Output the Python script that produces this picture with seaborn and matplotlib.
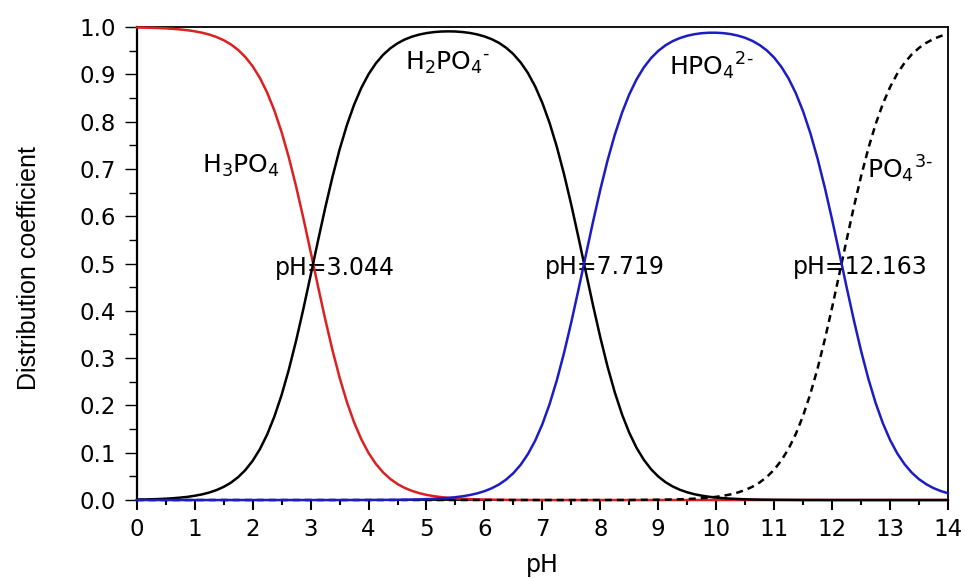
import matplotlib
matplotlib.use("Agg")
import matplotlib.pyplot as plt
from matplotlib.ticker import FormatStrFormatter, MultipleLocator
import pandas as pd
import seaborn as sns

# ---- data (distribution coefficient vs pH) ----
ph = [0.0, 0.125, 0.25, 0.375, 0.5, 0.625, 0.75, 0.875,
      1.0, 1.125, 1.25, 1.375, 1.5, 1.625, 1.75, 1.875,
      2.0, 2.125, 2.25, 2.375, 2.5, 2.625, 2.75, 2.875,
      3.0, 3.125, 3.25, 3.375, 3.5, 3.625, 3.75, 3.875,
      4.0, 4.125, 4.25, 4.375, 4.5, 4.625, 4.75, 4.875,
      5.0, 5.125, 5.25, 5.375, 5.5, 5.625, 5.75, 5.875,
      6.0, 6.125, 6.25, 6.375, 6.5, 6.625, 6.75, 6.875,
      7.0, 7.125, 7.25, 7.375, 7.5, 7.625, 7.75, 7.875,
      8.0, 8.125, 8.25, 8.375, 8.5, 8.625, 8.75, 8.875,
      9.0, 9.125, 9.25, 9.375, 9.5, 9.625, 9.75, 9.875,
      10.0, 10.125, 10.25, 10.375, 10.5, 10.625, 10.75, 10.875,
      11.0, 11.125, 11.25, 11.375, 11.5, 11.625, 11.75, 11.875,
      12.0, 12.125, 12.25, 12.375, 12.5, 12.625, 12.75, 12.875,
      13.0, 13.125, 13.25, 13.375, 13.5, 13.625, 13.75, 13.875,
      14.0]

h3po4 = ([0.9991, 0.9988, 0.9984, 0.9979, 0.9972, 0.9962, 0.9949, 0.9933,
          0.9910, 0.9881, 0.9842, 0.9790, 0.9722, 0.9633, 0.9516, 0.9365,
          0.9171, 0.8925, 0.8616, 0.8235, 0.7778, 0.7241, 0.6631, 0.5961,
          0.5253, 0.4535, 0.3836, 0.3182, 0.2592, 0.2079, 0.1644, 0.1286,
          0.0996, 0.0766, 0.0586, 0.0446, 0.0338, 0.0256, 0.0193, 0.0145,
          0.0109, 0.0082, 0.0062, 0.0046, 0.0035, 0.0026, 0.0019, 0.0015,
          0.0011, 0.0008, 0.0006, 0.0004, 0.0003, 0.0002, 0.0002, 0.0001,
          0.0001]
         + [0.0] * 56)

h2po4 = ([0.0009, 0.0012, 0.0016, 0.0021, 0.0028, 0.0038, 0.0051, 0.0067,
          0.0090, 0.0119, 0.0158, 0.0210, 0.0278, 0.0367, 0.0484, 0.0635,
          0.0829, 0.1075, 0.1384, 0.1765, 0.2222, 0.2759, 0.3369, 0.4039,
          0.4747, 0.5465, 0.6164, 0.6818, 0.7408, 0.7921, 0.8355, 0.8713,
          0.9002, 0.9231, 0.9411, 0.9550, 0.9656, 0.9737, 0.9797, 0.9841,
          0.9872, 0.9893, 0.9905, 0.9909, 0.9906, 0.9894, 0.9875, 0.9844,
          0.9802, 0.9744, 0.9666, 0.9562, 0.9427, 0.9252, 0.9029, 0.8746,
          0.8395, 0.7970, 0.7465, 0.6883, 0.6235, 0.5539, 0.4822, 0.4111,
          0.3437, 0.2819, 0.2275, 0.1808, 0.1421, 0.1104, 0.0852, 0.0652,
          0.0497, 0.0377, 0.0286, 0.0216, 0.0163, 0.0122, 0.0092, 0.0069,
          0.0052, 0.0039, 0.0029, 0.0022, 0.0016, 0.0012, 0.0009, 0.0007,
          0.0005, 0.0004, 0.0003, 0.0002, 0.0001, 0.0001, 0.0001]
         + [0.0] * 18)

hpo4 = ([0.0] * 30
        + [0.0001, 0.0001,
           0.0002, 0.0002, 0.0003, 0.0004, 0.0006, 0.0008, 0.0011, 0.0014,
           0.0019, 0.0025, 0.0034, 0.0045, 0.0060, 0.0080, 0.0106, 0.0141,
           0.0187, 0.0248, 0.0328, 0.0433, 0.0569, 0.0745, 0.0970, 0.1253,
           0.1604, 0.2030, 0.2535, 0.3117, 0.3765, 0.4461, 0.5178, 0.5889,
           0.6563, 0.7181, 0.7725, 0.8190, 0.8578, 0.8893, 0.9145, 0.9343,
           0.9496, 0.9614, 0.9703, 0.9768, 0.9816, 0.9849, 0.9870, 0.9880,
           0.9880, 0.9871, 0.9851, 0.9818, 0.9772, 0.9707, 0.9619, 0.9504,
           0.9353, 0.9157, 0.8909, 0.8597, 0.8214, 0.7753, 0.7213, 0.6600,
           0.5927, 0.5218, 0.4501, 0.3803, 0.3152, 0.2566, 0.2056, 0.1625,
           0.1270, 0.0984, 0.0757, 0.0578, 0.0440, 0.0334, 0.0252, 0.0190,
           0.0143])

po4 = ([0.0] * 65
       + [0.0001, 0.0001, 0.0001, 0.0001, 0.0003, 0.0004, 0.0005,
          0.0007, 0.0009, 0.0012, 0.0016, 0.0021, 0.0029, 0.0038, 0.0051,
          0.0068, 0.0090, 0.0120, 0.0160, 0.0212, 0.0281, 0.0372, 0.0490,
          0.0643, 0.0839, 0.1088, 0.1401, 0.1785, 0.2246, 0.2786, 0.3400,
          0.4073, 0.4782, 0.5499, 0.6197, 0.6848, 0.7434, 0.7944, 0.8375,
          0.8730, 0.9016, 0.9243, 0.9422, 0.9560, 0.9666, 0.9748, 0.9810,
          0.9857])

x_ticks = [0, 1, 2, 3, 4, 5, 6, 7, 8, 9, 10, 11, 12, 13, 14]
y_ticks = [0.0, 0.1, 0.2, 0.3, 0.4, 0.5, 0.6, 0.7, 0.8, 0.9, 1.0]

species_labels = [r"H$_{\mathregular{3}}$PO$_{\mathregular{4}}$",
                  "H$_{\\mathregular{2}}$PO$_{\\mathregular{4}}{}^{\\mathregular{\u2010}}$",
                  "HPO$_{\\mathregular{4}}{}^{\\mathregular{2\u2010}}$",
                  "PO$_{\\mathregular{4}}{}^{\\mathregular{3\u2010}}$"]
species_pos = [(1.12, 0.691), (4.63, 0.909), (9.19, 0.8985), (12.60, 0.680)]
cross_labels = ["pH=3.044", "pH=7.719", "pH=12.163"]
cross_pos = [(2.387, 0.476), (7.046, 0.478), (11.33, 0.478)]

df = pd.DataFrame({"pH": ph, "H3PO4": h3po4, "H2PO4": h2po4,
                   "HPO4": hpo4, "PO4": po4})

# ---- styling ----
sns.set_style("ticks")
plt.rcParams["font.family"] = ["DejaVu Sans"]
plt.rcParams["mathtext.fontset"] = "dejavusans"
for key in ["text.color", "axes.labelcolor", "xtick.color", "ytick.color",
            "axes.edgecolor"]:
    plt.rcParams[key] = "black"

fig = plt.figure(figsize=(9.65, 5.78), dpi=100)
ax = fig.add_axes([0.1417, 0.1349, 0.8407, 0.8183])

red = "#dc2020"
blue = "#1c1cc4"
lw = 1.8

sns.lineplot(data=df, x="pH", y="H3PO4", color=red, linewidth=lw, ax=ax,
             zorder=3, clip_on=False)
sns.lineplot(data=df, x="pH", y="H2PO4", color="black", linewidth=lw, ax=ax,
             zorder=3, clip_on=False)
sns.lineplot(data=df, x="pH", y="PO4", color="black", linewidth=lw, ax=ax,
             zorder=3, clip_on=False, linestyle="--")
ax.lines[-1].set_dashes([2.8, 2.0])
sns.lineplot(data=df, x="pH", y="HPO4", color=blue, linewidth=lw, ax=ax,
             zorder=3, clip_on=False)

ax.set_xlim(0, 14)
ax.set_ylim(0, 1.0)
ax.set_xticks(x_ticks)
ax.xaxis.set_minor_locator(MultipleLocator(0.5))
ax.set_yticks(y_ticks)
ax.yaxis.set_minor_locator(MultipleLocator(0.05))
ax.yaxis.set_major_formatter(FormatStrFormatter("%.1f"))

ax.tick_params(which="both", direction="out", top=False, right=False,
               colors="black")
ax.tick_params(axis="y", which="major", length=9, width=1.0, pad=6,
               labelsize=16.5)
ax.tick_params(axis="y", which="minor", length=6, width=1.0)
ax.tick_params(axis="x", which="major", length=7, width=1.5, pad=6,
               labelsize=16.5)
ax.tick_params(axis="x", which="minor", length=3.6, width=1.5)

for side, sp in ax.spines.items():
    sp.set_visible(True)
    sp.set_color("black")
    sp.set_linewidth(1.3)
ax.spines["left"].set_linewidth(1.6)

ax.set_xlabel("pH", fontsize=17)
ax.xaxis.set_label_coords(0.5, -0.113)
ax.set_ylabel("Distribution coefficient", fontsize=18,
              family=["Liberation Sans", "DejaVu Sans"])
ax.yaxis.set_label_coords(-0.118, 0.4897)

for txt, (x, y) in zip(species_labels, species_pos):
    ax.text(x, y, txt, fontsize=18, ha="left", va="baseline", zorder=2)
for txt, (x, y) in zip(cross_labels, cross_pos):
    ax.text(x, y, txt, fontsize=17, ha="left", va="baseline", zorder=2)

ax.grid(False)
fig.savefig("out.png", dpi=100)
